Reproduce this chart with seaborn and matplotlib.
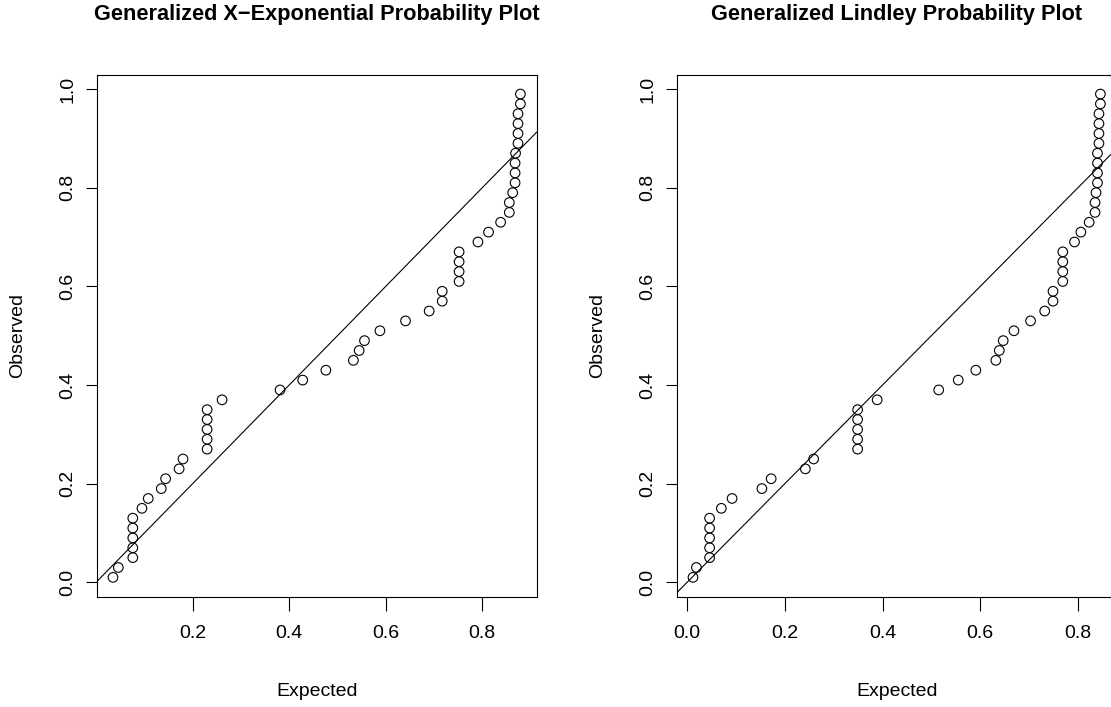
import matplotlib
matplotlib.use("Agg")
import matplotlib.pyplot as plt
from matplotlib.ticker import MultipleLocator
import numpy as np
import pandas as pd
import seaborn as sns

# observed plotting positions (same for both panels)
observed = [0.01, 0.03, 0.05, 0.07, 0.09, 0.11, 0.13, 0.15, 0.17, 0.19,
            0.21, 0.23, 0.25, 0.27, 0.29, 0.31, 0.33, 0.35, 0.37, 0.39,
            0.41, 0.43, 0.45, 0.47, 0.49, 0.51, 0.53, 0.55, 0.57, 0.59,
            0.61, 0.63, 0.65, 0.67, 0.69, 0.71, 0.73, 0.75, 0.77, 0.79,
            0.81, 0.83, 0.85, 0.87, 0.89, 0.91, 0.93, 0.95, 0.97, 0.99]

# expected values, generalized X-exponential fit
expected_gxe = [0.035, 0.046, 0.076, 0.076, 0.076, 0.076, 0.076, 0.095, 0.108, 0.135,
                0.144, 0.172, 0.180, 0.230, 0.230, 0.230, 0.230, 0.230, 0.261, 0.381,
                0.428, 0.476, 0.533, 0.545, 0.556, 0.588, 0.641, 0.690, 0.717, 0.717,
                0.752, 0.752, 0.752, 0.752, 0.791, 0.813, 0.838, 0.856, 0.856, 0.863,
                0.868, 0.868, 0.868, 0.869, 0.874, 0.874, 0.874, 0.874, 0.879, 0.879]

# expected values, generalized Lindley fit
expected_gl = [0.012, 0.019, 0.046, 0.046, 0.046, 0.046, 0.046, 0.070, 0.092, 0.153,
               0.172, 0.242, 0.259, 0.349, 0.349, 0.349, 0.349, 0.349, 0.389, 0.515,
               0.555, 0.591, 0.632, 0.639, 0.647, 0.669, 0.703, 0.732, 0.749, 0.749,
               0.769, 0.769, 0.769, 0.769, 0.793, 0.806, 0.823, 0.835, 0.835, 0.837,
               0.840, 0.840, 0.840, 0.840, 0.843, 0.843, 0.843, 0.843, 0.846, 0.846]

titles = ["Generalized X\u2212Exponential Probability Plot",
          "Generalized Lindley Probability Plot"]


def r_limits(values, frac=0.04):
    # R's default axis range: data range stretched 4% on each side
    lo, hi = min(values), max(values)
    pad = (hi - lo) * frac
    return lo - pad, hi + pad


sns.set_theme(style="ticks", rc={
    "axes.edgecolor": "black",
    "axes.linewidth": 0.8,
    "xtick.color": "black",
    "ytick.color": "black",
    "xtick.major.width": 0.8,
    "ytick.major.width": 0.8,
    "text.color": "black",
    "axes.labelcolor": "black",
})
plt.rcParams["font.family"] = ["Liberation Sans", "DejaVu Sans"]

W, H = 1111, 707
fig = plt.figure(figsize=(W / 100, H / 100), dpi=100)

box_w = 440 / W
box_h = 522 / H
box_y = (H - 596.7) / H
lefts = [96.7 / W, 676.7 / W]

for left, exp_vals, title in zip(lefts, [expected_gxe, expected_gl], titles):
    ax = fig.add_axes([left, box_y, box_w, box_h])
    df = pd.DataFrame({"Expected": exp_vals, "Observed": observed})
    sns.scatterplot(data=df, x="Expected", y="Observed", ax=ax,
                    marker="o", s=48, facecolor="none", edgecolor="black",
                    linewidth=0.8, legend=False)
    ax.collections[0].set_facecolor("none")
    ax.axline((0, 0), slope=1, color="black", linewidth=0.8)
    ax.set_xlim(*r_limits(exp_vals))
    ax.set_ylim(*r_limits(observed))

    ax.xaxis.set_major_locator(MultipleLocator(0.2))
    ax.yaxis.set_major_locator(MultipleLocator(0.2))
    ax.tick_params(axis="x", length=10, pad=10.5, labelsize=14)
    ax.tick_params(axis="y", length=7.7, pad=7, labelsize=14)
    plt.setp(ax.get_yticklabels(), rotation=90, va="center")

    ax.set_xlabel("Expected", fontsize=14, va="center")
    ax.xaxis.set_label_coords(0.5, -(692 - 596.7) / 522)
    ax.set_ylabel("Observed", fontsize=14, va="center")
    ax.yaxis.set_label_coords((18 - 96.7) / 440, 0.5)
    ax.set_title(title, fontsize=15.7, fontweight="bold", y=1.099, va="center")

fig.savefig("out.png", dpi=100)
